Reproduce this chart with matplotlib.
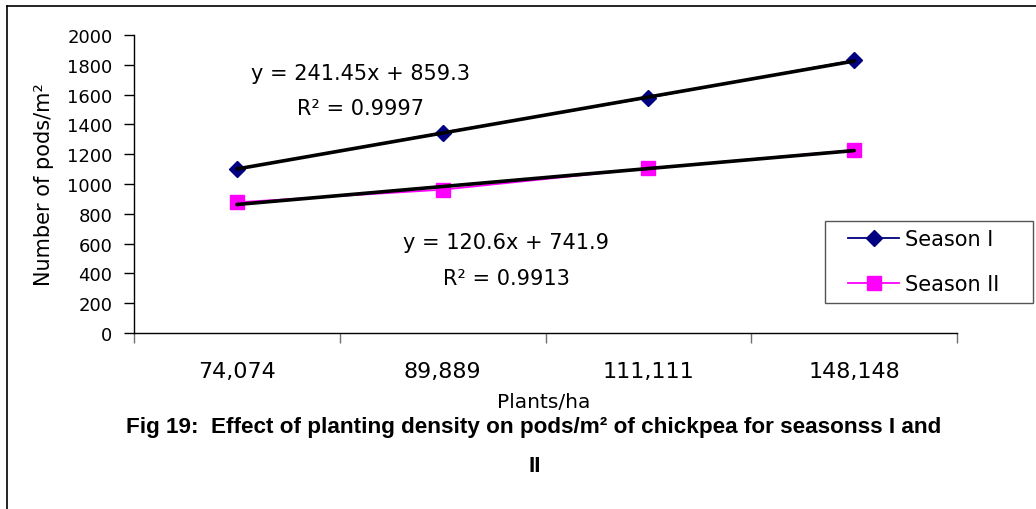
import numpy as np
import matplotlib
matplotlib.use("Agg")
import matplotlib.pyplot as plt
from matplotlib.lines import Line2D
from matplotlib.legend_handler import HandlerLine2D

# plant density classes (plants/ha)
densities = ["74,074", "89,889", "111,111", "148,148"]
# pods per m2
season1 = [1100, 1345, 1580, 1830]
season2 = [877, 962, 1105, 1228]
# linear trend y = a*x + b with its R^2
fit1 = (241.45, 859.3, 0.9997)
fit2 = (120.6, 741.9, 0.9913)
yticks = list(range(0, 2001, 200))

W, H = 1036, 510
plt.rcParams['font.family'] = 'DejaVu Sans'
fig = plt.figure(figsize=(W / 100, H / 100), dpi=100)
ax = fig.add_axes([134 / W, 1 - 334 / H, (957 - 134) / W, (334 - 36) / H])

x = np.arange(1, len(densities) + 1)
ax.plot(x, season1, color='#000080', lw=1.3, marker='D', ms=8.5,
        label='Season I', zorder=3)
ax.plot(x, season2, color='#FF00FF', lw=1.3, marker='s', ms=10,
        label='Season II', zorder=3)

# trend lines on top of the series
ends = x[[0, -1]]
for a, b, _ in (fit1, fit2):
    ax.plot(ends, a * ends + b, color='black', lw=2.6, zorder=4,
            solid_capstyle='round')

def eq_text(xa, ya, fit):
    a, b, r2 = fit
    ax.text(xa, ya[0], f"y = {a:g}x + {b:g}", transform=ax.transAxes,
            ha='center', va='baseline', fontsize=15)
    ax.text(xa, ya[1], f"R² = {r2:g}", transform=ax.transAxes,
            ha='center', va='baseline', fontsize=15)

eq_text(0.275, (0.8523, 0.7349), fit1)
eq_text(0.4525, (0.2852, 0.1644), fit2)

ax.set_xlim(0.5, len(densities) + 0.5)
ax.set_ylim(0, 2000)
ax.set_yticks(yticks)
ax.tick_params(axis='y', length=7, width=1, pad=8.5, labelsize=13)

ax.set_xticks(np.arange(0.5, len(densities) + 1, 1))
ax.set_xticklabels([])
ax.set_xticks(x, minor=True)
ax.set_xticklabels(densities, minor=True)
ax.tick_params(axis='x', which='major', length=7, width=1, color='#707070')
ax.tick_params(axis='x', which='minor', length=0, pad=20, labelsize=16)

for s in ('top', 'right'):
    ax.spines[s].set_visible(False)
for s in ('left', 'bottom'):
    ax.spines[s].set_linewidth(1.0)

ax.set_ylabel('Number of pods/m²', fontsize=15)
ax.yaxis.set_label_coords(-0.097, 0.5)
ax.set_xlabel('Plants/ha', fontsize=14.5, va='baseline')
ax.xaxis.set_label_coords(0.4976, -0.248)

leg = ax.legend(loc='upper left',
                bbox_to_anchor=(825 / W, 1 - 302 / H, 208 / W, 80 / H),
                bbox_transform=fig.transFigure, mode='expand',
                borderaxespad=0, fancybox=False, edgecolor='#555555',
                framealpha=1, fontsize=15, handlelength=3.17,
                handletextpad=0.25, labelspacing=1.2, borderpad=0.4,
                handler_map={Line2D: HandlerLine2D(xpad=0.72)})
leg.get_frame().set_linewidth(1.0)

# caption
cap_kw = dict(ha='center', va='baseline', fontsize=16.2, fontweight='bold',
              family='Liberation Sans')
fig.text(534 / W, 1 - 433 / H,
         "Fig 19:  Effect of planting density on pods/m² of chickpea for seasonss I and",
         **cap_kw)
fig.text(535 / W, 1 - 472 / H, "II", **cap_kw)

# frame of the text box holding the figure
fig.add_artist(Line2D([7 / W, 7 / W], [0, 1 - 7 / H], color='black', lw=1.2))
fig.add_artist(Line2D([7 / W, 1], [1 - 7 / H, 1 - 7 / H], color='black', lw=1.2))

fig.savefig('out.png', dpi=100)
